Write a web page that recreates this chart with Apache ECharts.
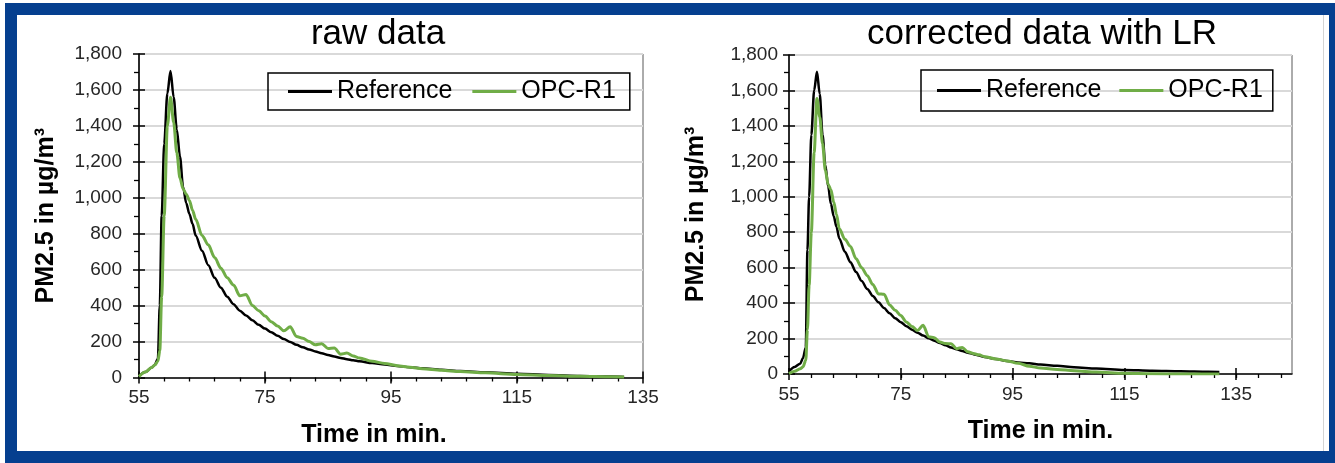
<!DOCTYPE html>
<html><head><meta charset="utf-8">
<script src="https://cdn.jsdelivr.net/npm/echarts@6/dist/echarts.min.js"></script>
<style>html,body{margin:0;padding:0;background:#fff;} #c{width:1335px;height:463px;}</style>
</head><body><div id="c"></div>
<script>
// ---- data (time in min., PM2.5 in µg/m³) ----
const times  = [55,56,57,57.5,58,58.3,58.6,59,59.5,60,60.5,61,61.5,62,62.5,63,63.5,64,65,66,67,68,69,70,71,72,73,74,75,76,77,78,79,80,81,82,83,84,85,86,87,88,89,90,92,94,96,98,100,103,106,110,115,120,125,130,132];
const refRaw = [8,30,55,70,105,400,900,1300,1580,1705,1560,1380,1230,1060,970,910,855,790,705,625,555,500,450,408,372,345,318,293,272,252,232,214,198,182,168,156,145,135,125,117,109,102,96,90,80,72,64,57,51,43,36,29,21,14,9,5,3];
const opcRaw = [5,30,55,70,90,150,450,900,1400,1560,1420,1250,1110,1050,1020,985,930,880,790,738,668,608,555,515,455,462,400,372,342,310,286,260,282,228,219,200,182,188,162,164,130,136,120,108,90,78,66,57,49,40,33,26,17,11,7,4,3];
const refLR  = [15,40,58,90,150,700,1000,1350,1600,1705,1580,1350,1180,1060,960,890,830,765,690,630,575,525,480,440,405,372,343,315,292,270,250,233,217,202,188,175,162,150,140,130,120,112,104,96,84,74,65,60,54,46,38,31,23,18,15,12,11];
const opcLR  = [2,15,30,40,77,250,500,800,1250,1555,1450,1300,1150,1070,1040,970,900,820,760,720,650,600,555,505,452,450,390,360,330,293,268,245,275,210,205,180,172,170,143,150,125,115,108,98,85,74,60,44,34,26,18,11,4,1,0,0,0];
const seriesNames = ['Reference', 'OPC-R1'];
const chartTitles = ['raw data', 'corrected data with LR'];
const xTicks = [55, 75, 95, 115, 135];
const yTicks = [0, 200, 400, 600, 800, 1000, 1200, 1400, 1600, 1800];
const xName = 'Time in min.';
const yName = 'PM2.5 in µg/m³';

const FONT = "'Liberation Sans', Arial, sans-serif";
function pairs(ts, vs) { return ts.map((t, i) => [t, vs[i]]); }
function fmt(v) { return String(v).replace(/\B(?=(\d{3})+(?!\d))/g, ','); }
function minorX(max) { const a = []; for (let v = 59; v < max; v += 4) a.push(v); return a; }
function minorY() { const a = []; for (let v = 100; v < 1800; v += 200) a.push(v); return a; }

function xAxes(g, xmax, namePad) {
  const base = { type: 'value', gridIndex: g, position: 'bottom', min: 55, max: xmax, interval: 20,
    splitLine: { show: false } };
  return [
    Object.assign({}, base, {
      axisLine: { show: true, onZero: false, lineStyle: { color: '#000', width: 1.5 } },
      axisTick: { show: true, inside: false, length: 6, customValues: xTicks, lineStyle: { color: '#000', width: 1.5 } },
      axisLabel: { show: true, customValues: xTicks, margin: 11, fontSize: 19, fontFamily: FONT, color: '#262626' },
      name: xName, nameLocation: 'middle', nameGap: 45,
      nameTextStyle: { fontSize: 25, fontWeight: 'bold', fontFamily: FONT, color: '#000', padding: namePad }
    }),
    Object.assign({}, base, {
      axisLine: { show: false, onZero: false },
      axisTick: { show: true, inside: true, length: 6, customValues: xTicks, lineStyle: { color: '#000', width: 1.5 } },
      axisLabel: { show: false }
    }),
    Object.assign({}, base, { interval: 4,
      axisLine: { show: false, onZero: false },
      axisTick: { show: true, inside: false, length: 4, customValues: minorX(xmax), lineStyle: { color: '#000', width: 1.3 } },
      axisLabel: { show: false }
    })
  ];
}
function yAxes(g, labMargin, nameGap) {
  const base = { type: 'value', gridIndex: g, position: 'left', min: 0, max: 1800, interval: 200 };
  return [
    Object.assign({}, base, {
      axisLine: { show: true, onZero: false, lineStyle: { color: '#000', width: 1.5 } },
      axisTick: { show: true, inside: false, length: 6, lineStyle: { color: '#000', width: 1.5 } },
      axisLabel: { show: true, margin: labMargin, fontSize: 19, fontFamily: FONT, color: '#262626', formatter: fmt },
      splitLine: { show: true, lineStyle: { color: '#d9d9d9', width: 2 } },
      name: yName, nameLocation: 'middle', nameRotate: 90, nameGap: nameGap,
      nameTextStyle: { fontSize: 25, fontWeight: 'bold', fontFamily: FONT, color: '#000' }
    }),
    Object.assign({}, base, {
      axisLine: { show: false, onZero: false }, splitLine: { show: false },
      axisTick: { show: true, inside: true, length: 6, lineStyle: { color: '#000', width: 1.5 } },
      axisLabel: { show: false }
    }),
    Object.assign({}, base, { interval: 100,
      axisLine: { show: false, onZero: false }, splitLine: { show: false },
      axisTick: { show: true, inside: false, length: 5, customValues: minorY(), lineStyle: { color: '#000', width: 1.3 } },
      axisLabel: { show: false }
    })
  ];
}
function lineSeries(name, data, xi, color, width, z) {
  return { type: 'line', name: name, xAxisIndex: xi, yAxisIndex: xi, data: data,
    showSymbol: false, symbol: 'none', smooth: 0.3, smoothMonotone: 'x', animation: false,
    lineStyle: { color: color, width: width }, itemStyle: { color: color }, z: z };
}
const legendBase = { orient: 'horizontal', data: seriesNames, icon: 'rect', itemWidth: 44, itemHeight: 3,
  borderColor: '#000', borderWidth: 1.5, selectedMode: false,
  textStyle: { fontSize: 25, fontFamily: FONT, color: '#000', lineHeight: 27 } };

const chart = echarts.init(document.getElementById('c'), null, { renderer: 'canvas' });
chart.setOption({
  animation: false,
  backgroundColor: '#fff',
  title: [
    { text: chartTitles[0], left: 373, top: 12, textAlign: 'center', textStyle: { fontSize: 35, fontWeight: 'normal', fontFamily: FONT, color: '#000' } },
    { text: chartTitles[1], left: 1037, top: 12, textAlign: 'center', textStyle: { fontSize: 35, fontWeight: 'normal', fontFamily: FONT, color: '#000' } }
  ],
  legend: [
    Object.assign({}, legendBase, { left: 268, top: 73, itemGap: 20, padding: [5, 14, 5, 20] }),
    Object.assign({}, legendBase, { left: 921, top: 70, itemGap: 18, padding: [7, 10, 7, 16] })
  ],
  grid: [
    { left: 139, top: 54, width: 504, height: 323.5, show: true, borderColor: '#595959', borderWidth: 1, backgroundColor: 'transparent' },
    { left: 789, top: 55, width: 503, height: 319, show: true, borderColor: '#595959', borderWidth: 1, backgroundColor: 'transparent' }
  ],
  xAxis: [].concat(xAxes(0, 135, [0, 34, 0, 0]), xAxes(1, 145, [0, 0, 0, 0])),
  yAxis: [].concat(yAxes(0, 17, 80), yAxes(1, 11, 80)),
  series: [
    lineSeries(seriesNames[0], pairs(times, refRaw), 0, '#000000', 2.5, 2),
    lineSeries(seriesNames[1], pairs(times, opcRaw), 0, '#70ad47', 3, 3),
    lineSeries(seriesNames[0], pairs(times, refLR), 3, '#000000', 2.5, 2),
    lineSeries(seriesNames[1], pairs(times, opcLR), 3, '#70ad47', 3, 3)
  ],
  graphic: [
    { type: 'rect', silent: true, z: 100, shape: { x: 11, y: 9, width: 1324, height: 448 },
      style: { fill: 'none', stroke: '#053f8f', lineWidth: 12 } },
    { type: 'line', silent: true, z: 99, shape: { x1: 1323.5, y1: 15, x2: 1323.5, y2: 451 },
      style: { stroke: '#d4d4d4', lineWidth: 1 } }
  ]
});
</script></body></html>
